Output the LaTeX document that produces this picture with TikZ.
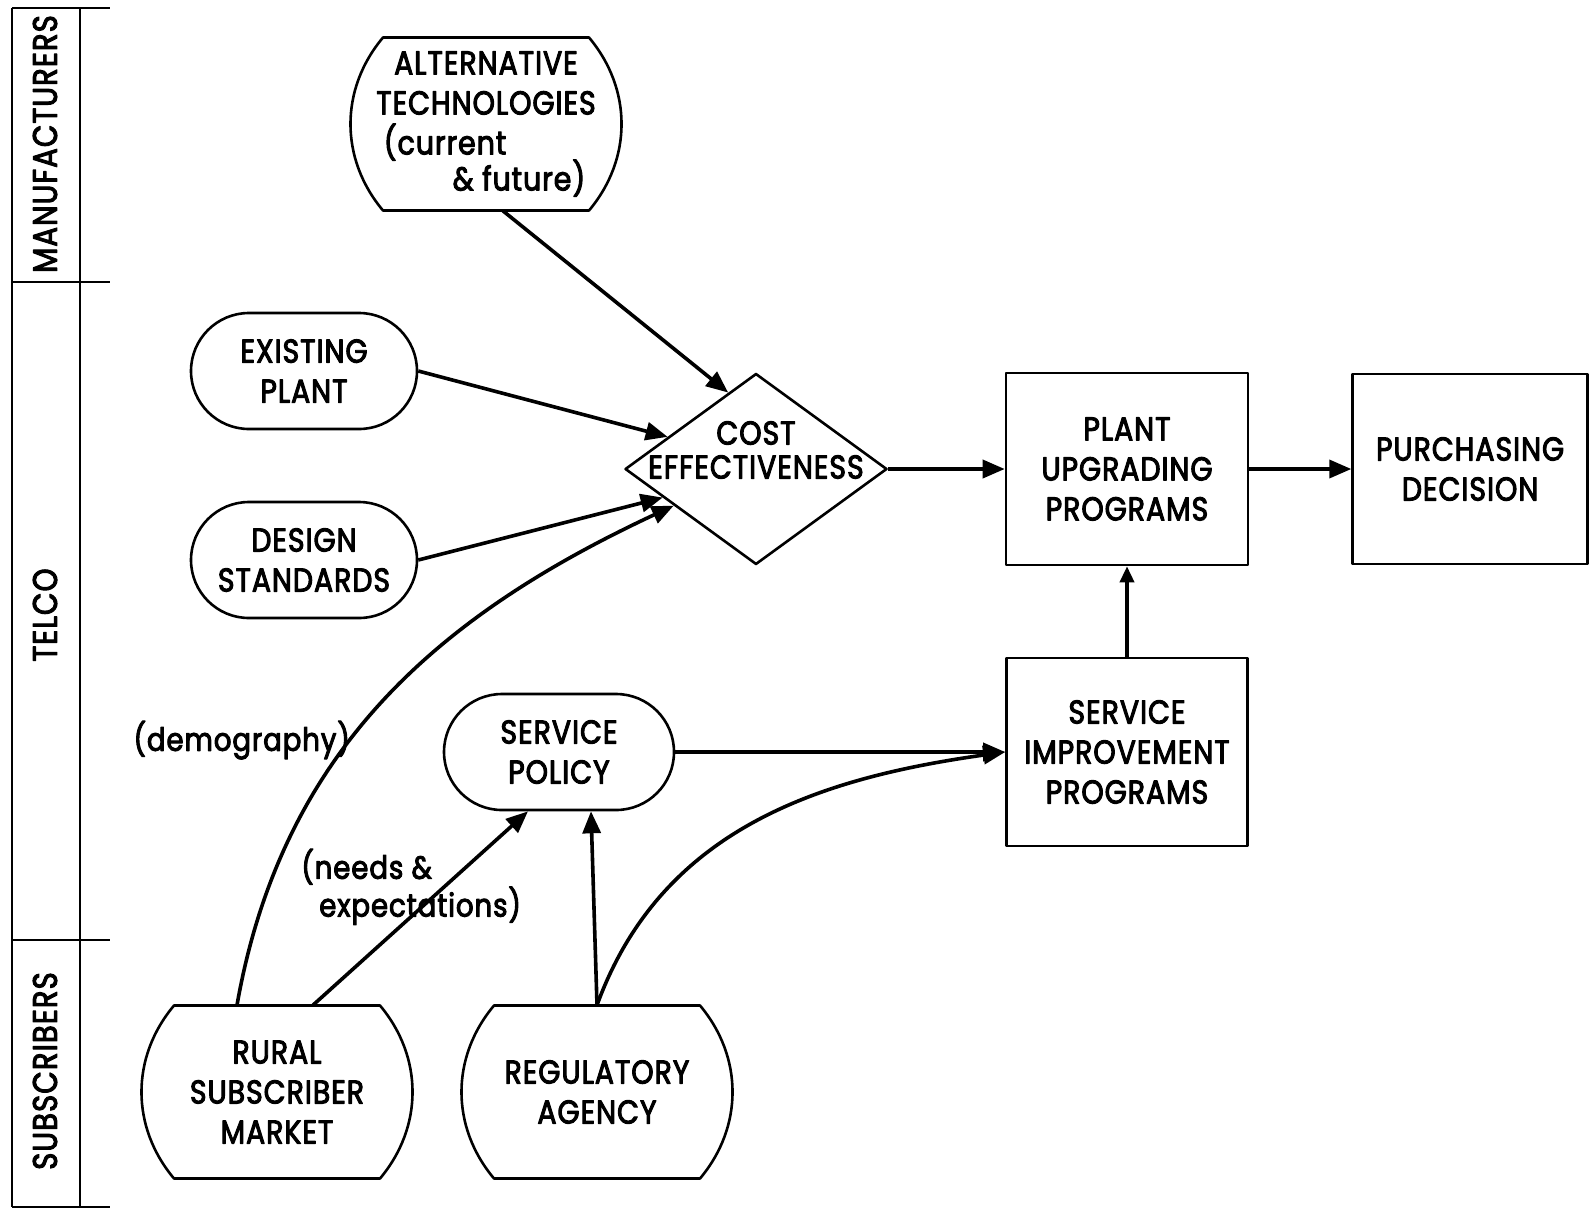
\documentclass[tikz,border=0pt]{standalone}
\usepackage{fontspec}
\setmainfont{Poppins}[FakeStretch=0.86, FakeBold=3, LetterSpace=3]
\usepackage{tikz}
\usetikzlibrary{arrows.meta,positioning,shapes.geometric}

\tikzset{
  box/.style={draw, line width=1.3pt, align=center, inner sep=2pt},
  pill/.style={box, rounded corners=29pt, minimum width=113pt, minimum height=58pt},
  barrel/.style={align=center, inner sep=0pt, minimum width=103pt, minimum height=86.5pt},
  flow/.style={line width=1.8pt, -{Triangle[length=11pt,width=9pt]}},
  lane/.style={rotate=90, font=\fontsize{17}{20}\selectfont},
  remark/.style={font=\fontsize{16}{16}\selectfont}
}

\begin{document}
\begin{tikzpicture}[x=0.5pt, y=-0.5pt, font=\fontsize{16.5}{20}\selectfont, line join=round]
  \useasboundingbox (0,0) rectangle (1593,1210);

  % actor lanes
  \draw[line width=1.3pt] (12,8) -- (12,1207) (80,8) -- (80,1207);
  \foreach \y in {8,282,940,1207}
    \draw[line width=1.3pt] (12,\y) -- (110,\y);
  \node[lane] (MF) at (45,144) {MANUFACTURERS};
  \node[lane] (TC) at (45,615) {TELCO};
  \node[lane] (SB) at (45,1071) {SUBSCRIBERS};

  % inputs
  \node[barrel] (AT) at (486,124) {ALTERNATIVE\\TECHNOLOGIES\\(current\hspace*{41pt}\null\\[-2pt]\hspace*{33pt}\& future)};
  \node[pill] (EP) at (304,371) {EXISTING\\PLANT};
  \node[pill] (DS) at (304,560) {DESIGN\\STANDARDS};
  \node[pill, minimum width=115pt] (SP) at (559,752) {SERVICE\\POLICY};
  \node[barrel] (RSM) at (277,1092) {RURAL\\SUBSCRIBER\\MARKET};
  \node[barrel] (RA) at (597,1092) {REGULATORY\\AGENCY};
  % barrel outlines, flat top and bottom
  \foreach \n in {AT,RSM,RA}
    \draw[line width=1.3pt] ([shift={(-103,-86.5)}]\n.center) to[bend right=40] ([shift={(-103,86.5)}]\n.center)
      -- ([shift={(103,86.5)}]\n.center) to[bend right=40] ([shift={(103,-86.5)}]\n.center) -- cycle;

  % decisions
  \node[diamond, draw, line width=1.3pt, inner sep=0pt, minimum width=131pt, minimum height=95.5pt,
        label={[align=center, yshift=9.5pt, font=\fontsize{16.5}{17}\selectfont]center:COST\\EFFECTIVENESS}] (CE) at (756,469) {};
  \node[box, minimum width=121pt, minimum height=96pt] (PUP) at (1127,469) {PLANT\\UPGRADING\\PROGRAMS};
  \node[box, minimum width=117.5pt, minimum height=95pt, right=51pt of PUP] (PD) {PURCHASING\\DECISION};
  \node[box, minimum width=120.5pt, minimum height=94pt] (SIP) at (1127,752) {SERVICE\\IMPROVEMENT\\PROGRAMS};

  \draw[flow] ([xshift=8.5pt]AT.south) -- (CE.110);
  \draw[flow] (EP.east) -- (CE.160);
  \draw[flow] (DS.east) -- (CE.197);
  \draw[flow] ([xshift=-20pt]RSM.north) to[out=80,in=205]
    node[pos=0.42, left, xshift=4pt, remark] {(demography)} (CE.204);
  \draw[flow] ([xshift=18pt]RSM.north) --
    node[pos=0.61, xshift=-16.5pt, align=left, remark] {(needs \&\\\hspace*{9pt}expectations)}
    ([xshift=-15.5pt]SP.south);
  \draw[flow] (RA.north) -- ([xshift=16pt]SP.south);
  \draw[flow] (RA.north) to[out=70,in=188] (SIP.west);
  \draw[flow] (SP.east) -- (SIP.west);
  \draw[flow] (CE.east) -- (PUP.west);
  \draw[line width=1.8pt, -{Triangle[length=8pt,width=7pt]}] (SIP) -- (PUP);
  \draw[flow] (PUP) -- (PD);
\end{tikzpicture}
\end{document}
